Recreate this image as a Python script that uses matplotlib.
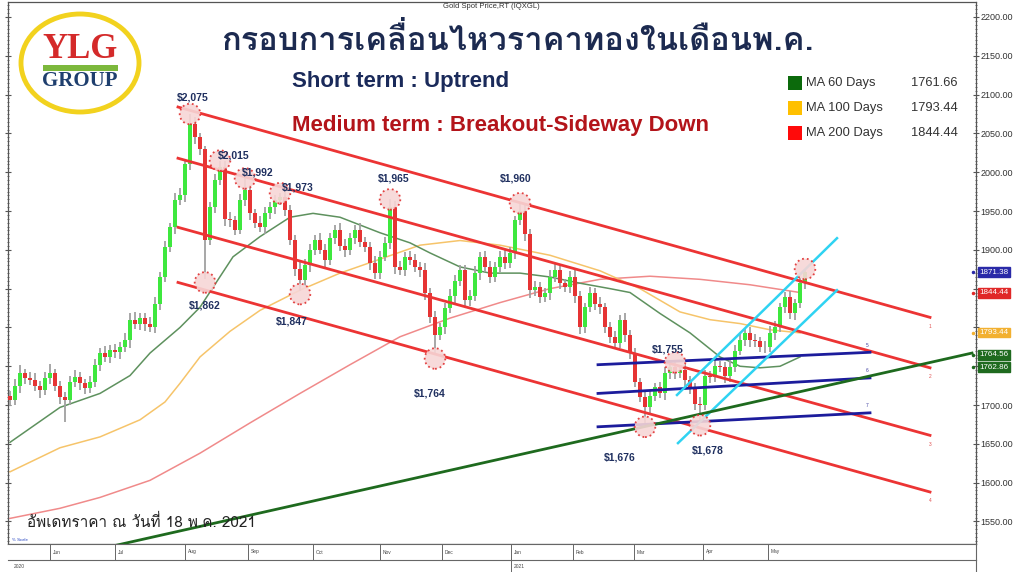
import matplotlib
matplotlib.use("Agg")
import matplotlib.pyplot as plt
import numpy as np
from matplotlib import font_manager
from matplotlib.ft2font import FT2Font
from matplotlib.patches import Ellipse, Rectangle
from matplotlib.ticker import MultipleLocator, FuncFormatter
import matplotlib.transforms as mtransforms

# daily closes (one bar every ~2 trading days), May 2020 - 18 May 2021
closes = [1706,1725,1741,1735,1732,1725,1719,1735,1741,1725,1710,1706,1730,1736,1728,1722,1730,1752,1767,1762,
          1771,1768,1775,1784,1810,1805,1812,1805,1800,1830,1865,1904,1929,1964,1970,2010,2062,2045,2030,1913,
          1955,1990,2007,1940,1938,1926,1964,1977,1947,1935,1929,1947,1955,1964,1968,1951,1913,1875,1861,1880,
          1900,1913,1900,1887,1915,1926,1905,1900,1915,1926,1910,1904,1883,1870,1891,1909,1955,1878,1874,1891,
          1887,1878,1874,1844,1813,1790,1800,1825,1840,1860,1874,1835,1840,1870,1891,1878,1865,1878,1891,1883,
          1896,1938,1950,1920,1848,1852,1839,1844,1865,1874,1857,1852,1865,1840,1800,1826,1844,1830,1826,1800,
          1788,1780,1810,1790,1767,1730,1710,1697,1712,1723,1715,1741,1749,1741,1745,1732,1722,1702,1700,1738,
          1736,1750,1749,1738,1749,1770,1784,1793,1784,1782,1775,1775,1793,1800,1826,1839,1818,1831,1857,1871.38]
first_open = 1712
wick_up = [6,8,10,5,7,9,6,8,12,5,6,7,8,9,6,5,8,7,6,9,
           7,8,6,9,8,10,7,6,8,9,7,8,6,9,10,7,13,9,6,4,
           6,8,8,7,9,6,8,15,7,6,9,8,7,6,5,8,7,6,9,8,
           7,6,9,8,7,6,8,9,7,6,8,7,6,9,8,7,10,8,7,6,
           8,7,6,9,7,8,6,7,9,8,6,7,8,9,6,7,8,6,7,9,
           8,6,10,9,7,8,6,7,9,8,7,6,8,9,7,6,8,7,9,6,
           7,8,6,9,7,6,5,7,8,6,7,8,9,6,7,8,6,7,8,7,
           6,8,7,6,9,7,8,6,7,8,6,7,9,8,6,7,8,6,7,4]
wick_dn = [7,6,9,8,6,7,10,6,8,7,9,28,6,7,9,8,6,7,8,6,
           8,7,9,6,10,7,8,9,6,7,8,6,7,9,6,8,7,9,8,51,
           7,8,6,9,8,7,6,8,9,7,6,8,7,9,6,8,7,9,14,7,
           8,7,6,9,7,8,6,9,7,8,6,7,9,8,7,6,8,9,7,8,
           6,7,9,8,7,26,6,8,7,9,6,8,7,6,9,7,8,6,7,8,
           7,8,6,9,10,7,8,6,9,7,8,6,7,9,8,7,6,8,9,7,
           8,6,7,9,8,7,6,21,8,7,6,9,7,8,6,7,8,9,22,7,
           8,6,7,9,8,7,6,8,9,7,6,8,7,9,6,8,7,9,6,7]

# moving averages (bar position, value)
ma60_pos = [0,10,18,24,28,34,38,44.6,50,56,60.6,66,74,80,84,90,96,102,108,114,120,124,130,136,142,146,150,154,158]
ma60_val = [1652,1697,1715,1738,1767,1800,1826,1891,1917,1942,1947,1942,1922,1909,1896,1878,1870,1870,1865,1857,1850,1845,1818,1793,1762,1750,1748,1750,1762]
ma100_pos = [0,10,18,26,31,34,38,44,50,58,66,74,82,90,98,108,118,126,134,140,146,152,158]
ma100_val = [1614,1645,1659,1681,1704,1728,1762,1795,1822,1848,1870,1888,1906,1912,1906,1893,1873,1850,1820,1810,1805,1797,1793]
ma200_pos = [0,10,18,28,38,48,58,68,78,88,98,108,118,128,138,148,158]
ma200_val = [1554,1567,1581,1603,1638,1677,1715,1752,1788,1812,1832,1850,1862,1866,1862,1855,1845]

# pivots marked on the chart
pivot_idx = [36, 42, 47, 54, 76, 102, 39, 58, 85, 127, 133, 138, 159]
pivot_kind = ['H', 'H', 'H', 'H', 'H', 'H', 'L', 'L', 'L', 'L', 'H', 'L', 'H']
pivot_show = [True] * 12 + [False]

# trend lines (start pos, end pos, start price, end price)
red_lines = [(33.6, 184, 2084, 1813), (33.6, 184, 2018, 1748), (33.6, 184, 1929, 1661), (33.6, 184, 1858, 1588)]
blue_lines = [(117.6, 172, 1752, 1768), (117.6, 172, 1715, 1735), (117.6, 172, 1672, 1690)]
cyan_lines = [(133.4, 165.4, 1713, 1915), (133.6, 165.4, 1651, 1848)]
green_line = (21.4, 192.4, 1519.6, 1767)

month_pos = [8, 21, 35, 47.6, 60.6, 74, 86.4, 100.2, 112.6, 124.8, 138.6, 151.6]
month_lbl = ['Jun', 'Jul', 'Aug', 'Sep', 'Oct', 'Nov', 'Dec', 'Jan', 'Feb', 'Mar', 'Apr', 'May']

ma_names = ['MA 60 Days', 'MA 100 Days', 'MA 200 Days']
ma_last = [1761.66, 1793.44, 1844.44]
side_vals = [1871.38, 1844.44, 1793.44, 1764.56, 1762.86]
hidden_ticks = [1850, 1800, 1750]


def thai_font():
    for f in font_manager.fontManager.ttflist:
        try:
            if 0x0E01 in FT2Font(f.fname).get_charmap():
                return f.name
        except Exception:
            pass
    return 'DejaVu Sans'


TH = thai_font()
plt.rcParams['font.family'] = ['Liberation Sans', 'DejaVu Sans']

W, H = 1024, 572
fig = plt.figure(figsize=(W / 100, H / 100), dpi=100)
fx = lambda px: px / W
fy = lambda py: 1 - py / H

ax = fig.add_axes([fx(8), 28 / H, 968 / W, 542 / H])
ax.set_xlim(-0.4, 193.2)
ax.set_ylim(1521, 2219.3)

closes = np.array(closes, dtype=float)
opens = np.concatenate(([first_open], closes[:-1]))
highs = np.maximum(opens, closes) + np.array(wick_up)
lows = np.minimum(opens, closes) - np.array(wick_dn)
x = np.arange(len(closes))

# moving averages
ax.plot(ma200_pos, ma200_val, color='#f08a8a', lw=1.1, zorder=2)
ax.plot(ma100_pos, ma100_val, color='#f6c46a', lw=1.1, zorder=2)
ax.plot(ma60_pos, ma60_val, color='#5e915e', lw=1.1, zorder=2)

# candles
ax.vlines(x, lows, highs, color='#a0a0a0', lw=1.3, zorder=3)
up = closes >= opens
ax.bar(x[up], (closes - opens)[up], bottom=opens[up], width=0.7, color='#3ee83e', zorder=4)
ax.bar(x[~up], (closes - opens)[~up], bottom=opens[~up], width=0.7, color='#e63434', zorder=4)

# trend lines
for x0, x1, y0, y1 in red_lines:
    ax.plot([x0, x1], [y0, y1], color='#ec3434', lw=2, zorder=5)
for x0, x1, y0, y1 in blue_lines:
    ax.plot([x0, x1], [y0, y1], color='#1c1c9c', lw=2, zorder=5)
for x0, x1, y0, y1 in cyan_lines:
    ax.plot([x0, x1], [y0, y1], color='#2fd3f2', lw=1.8, zorder=5)
ax.plot(green_line[:2], green_line[2:], color='#1e6a1e', lw=2, zorder=5)
for i, (x0, x1, y0, y1) in enumerate(red_lines):
    ax.text(x1, y1 - 8, str(i + 1), fontsize=3.5, color='#e05050', ha='center', va='top')
for i, (x0, x1, y0, y1) in enumerate(blue_lines):
    ax.text(x1 - 0.6, y1 + 6, str(i + 5), fontsize=3.5, color='#4040a0', ha='center', va='bottom')

# pivot circles and labels
lbl_off = [(3, 17), (14, 5), (13, 6), (18, 6), (4, 21), (-4, 25), (0, -23), (-8, -27),
           (-5, -35), (-25, -31), (-7, 13), (8, -25), (0, 0)]
for k, i in enumerate(pivot_idx):
    v = highs[i] if pivot_kind[k] == 'H' else lows[i]
    cy = v if pivot_kind[k] == 'H' else v - 4
    ax.scatter([i], [cy], s=220, facecolor='#f7d6d6', edgecolor='#e03030', linestyle=':',
               linewidth=1.3, alpha=0.9, zorder=6)
    if pivot_show[k]:
        ax.annotate(f'${v:,.0f}', (i, cy), xytext=lbl_off[k], textcoords='offset pixels',
                    ha='center', va='center', fontsize=7.5, fontweight='bold', color='#1f2f5f', zorder=7)

# axes styling
ax.yaxis.tick_right()
ax.yaxis.set_major_locator(MultipleLocator(50))
ax.yaxis.set_minor_locator(MultipleLocator(5))
ax.yaxis.set_major_formatter(FuncFormatter(lambda v, p: '' if round(v) in hidden_ticks else f'{v:.2f}'))
ax.tick_params(axis='y', which='both', left=True, right=True, labelleft=False, labelright=True,
               direction='inout', labelsize=6.5, labelcolor='#333333', color='#555555', pad=1)
ax.tick_params(axis='y', which='major', length=4)
ax.tick_params(axis='y', which='minor', length=2, width=0.6)
ax.set_xticks([])
for s in ax.spines.values():
    s.set_color('#555555')
    s.set_linewidth(0.9)

# right side value tags
tag_col = ['#2a2aa8', '#e02828', '#f2b030', '#1f6a1f', '#1f6a1f']
tag_y = [1871.38, 1844.44, 1793.44, 1764.56, 1749]
tr = mtransforms.blended_transform_factory(ax.transAxes, ax.transData)
for v, c, yy in zip(side_vals, tag_col, tag_y):
    ax.text(1.0035, yy, f'{v:.2f}', transform=tr, fontsize=5.8, color='white', va='center', ha='left',
            bbox=dict(boxstyle='square,pad=0.15', fc=c, ec=c), zorder=8, clip_on=False)
    ax.plot([0.997], [yy], marker='o', ms=1.5, color=c, transform=tr, clip_on=False)

# date strip
axd = fig.add_axes([fx(8), 12 / H, 968 / W, 16 / H], sharex=ax)
axd.set_yticks([])
axd.tick_params(axis='x', bottom=False, labelbottom=False)
axd.set_ylim(0, 1)
for s in axd.spines.values():
    s.set_color('#666666')
    s.set_linewidth(0.8)
axd.spines['left'].set_visible(False)
for p, m in zip(month_pos, month_lbl):
    axd.vlines(p, 0, 1, color='#666666', lw=0.7)
    axd.text(p + 0.6, 0.5, m, fontsize=3.5, color='#444444', va='center')
fig.text(fx(14), fy(566), '2020', fontsize=3.5, color='#444444', va='center')
fig.text(fx(514), fy(566), '2021', fontsize=3.5, color='#444444', va='center')
fig.add_artist(plt.Line2D([fx(511), fx(511)], [fy(560), fy(572)], color='#666666', lw=0.7))
fig.add_artist(plt.Line2D([fx(976), fx(976)], [fy(560), fy(572)], color='#666666', lw=0.8))

# texts
fig.text(fx(491), fy(7), 'Gold Spot Price,RT (IQXGL)', fontsize=5.5, color='#333333', ha='center', va='center')
fig.text(fx(517), fy(40), 'กรอบการเคลื่อนไหวราคาทองในเดือนพ.ค.', family=[TH, 'DejaVu Sans'],
         fontsize=23.5, fontweight='bold', color='#1c2a50', ha='center', va='center')
fig.text(fx(292), fy(82), 'Short term : Uptrend', fontsize=16, fontweight='bold',
         color='#1a2a5a', ha='left', va='center')
fig.text(fx(292), fy(125), 'Medium term : Breakout-Sideway Down', fontsize=16, fontweight='bold',
         color='#b3141a', ha='left', va='center')
fig.text(fx(27), fy(522), 'อัพเดทราคา ณ วันที่ 18 พ.ค. 2021', family=[TH, 'DejaVu Sans'],
         fontsize=11, color='#222222', ha='left', va='center')
fig.text(fx(12), fy(540), '% Scale', fontsize=3.2, color='#2040c0', ha='left', va='center')

# MA legend
sq_col = ['#0c6a0c', '#ffc000', '#ff0a0a']
for k in range(3):
    yy = 83 + 25 * k
    fig.add_artist(Rectangle((fx(788), fy(yy + 7)), 14 / W, 14 / H, transform=fig.transFigure,
                             fc=sq_col[k], ec='none'))
    fig.text(fx(806), fy(yy), ma_names[k], fontsize=9.3, color='#333333', ha='left', va='center')
    fig.text(fx(958), fy(yy), f'{ma_last[k]:.2f}', fontsize=9.3, color='#333333', ha='right', va='center')

# logo
fig.add_artist(Ellipse((fx(80), fy(63)), 118 / W, 98 / H, transform=fig.transFigure,
                       fc='white', ec='#f2d21e', lw=3.5, zorder=10))
fig.text(fx(80), fy(49), 'YLG', family=['Liberation Serif'], fontsize=25, fontweight='bold',
         color='#d42a2a', ha='center', va='center', zorder=11)
fig.add_artist(Rectangle((fx(43), fy(71)), 75 / W, 6 / H, transform=fig.transFigure,
                         fc='#7cb83c', ec='none', zorder=11))
fig.text(fx(80), fy(81), 'GROUP', family=['Liberation Serif'], fontsize=15, fontweight='bold',
         color='#1f3f6e', ha='center', va='center', zorder=11)

fig.savefig('out.png', dpi=100)
